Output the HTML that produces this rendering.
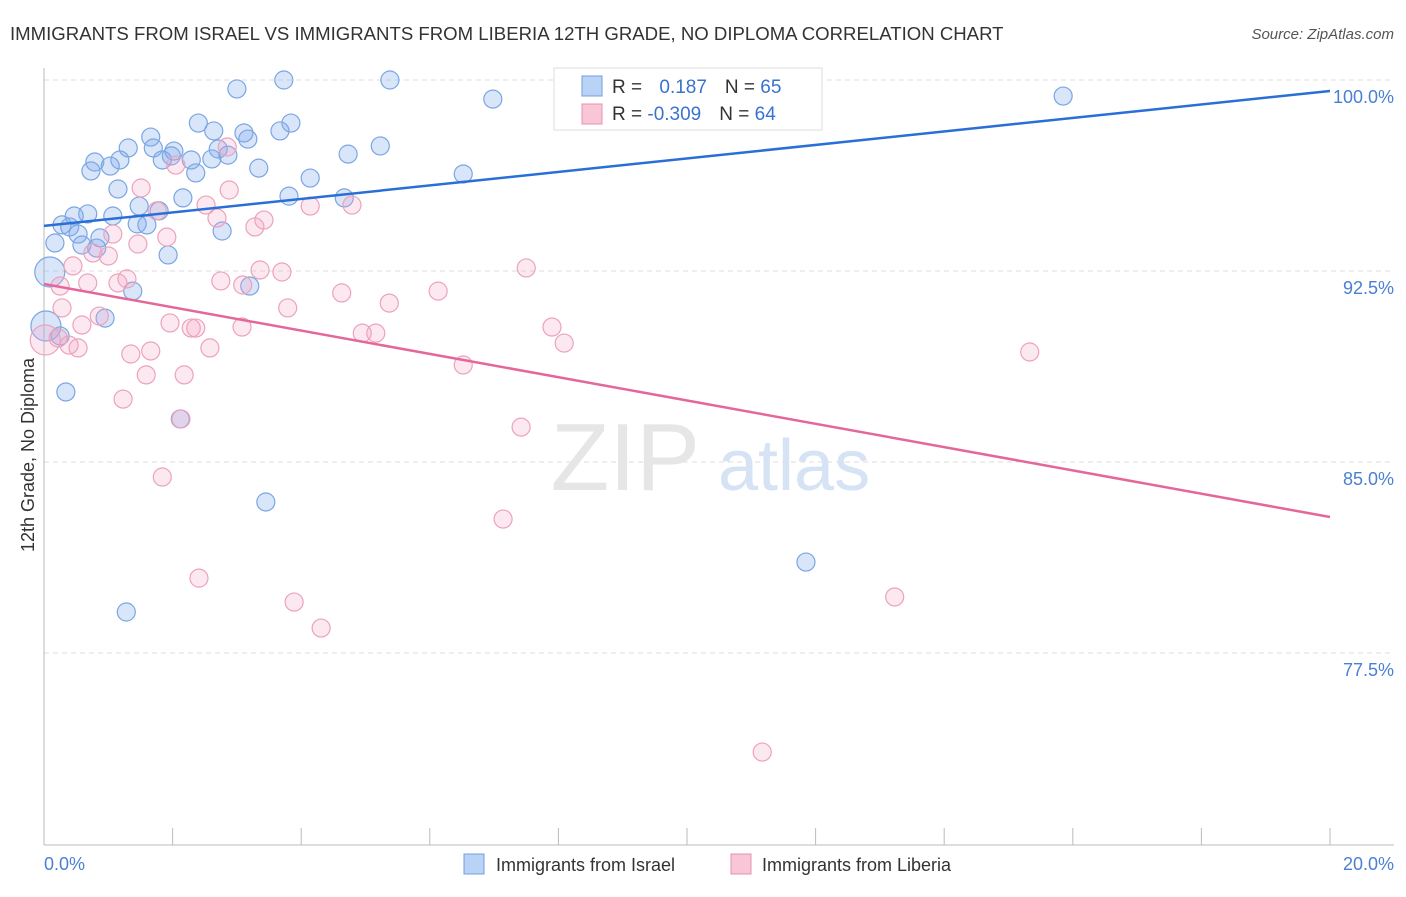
<!DOCTYPE html>
<html><head><meta charset="utf-8"><style>
body{margin:0;background:#fff;font-family:"Liberation Sans",sans-serif}
svg text{font-family:"Liberation Sans",sans-serif}
</style></head><body>
<svg width="1406" height="892">
<text x="10" y="40" font-size="18.6" fill="#333">IMMIGRANTS FROM ISRAEL VS IMMIGRANTS FROM LIBERIA 12TH GRADE, NO DIPLOMA CORRELATION CHART</text>
<text x="1394" y="39" font-size="15" fill="#555" text-anchor="end" font-style="italic">Source: ZipAtlas.com</text>
<g id="grid"></g>
<text x="700" y="490" font-size="96" fill="#e6e6e6" text-anchor="end" font-family="Liberation Serif">ZIP</text>
<text x="718" y="490" font-size="72" fill="#d6e3f5">atlas</text>
<g id="pts"></g>
<g id="lines"></g>
<text transform="translate(34,455) rotate(-90)" font-size="18" fill="#333" text-anchor="middle">12th Grade, No Diploma</text>
<text x="44" y="870" font-size="18" fill="#4a7fd4">0.0%</text>
<text x="1394" y="870" font-size="18" fill="#4a7fd4" text-anchor="end">20.0%</text>
<g>
<rect x="554" y="68" width="268" height="62" fill="#fff" stroke="#ddd"/>
<rect x="582" y="76" width="20" height="20" fill="#b9d3f5" stroke="#6f9fe0"/>
<rect x="582" y="104" width="20" height="20" fill="#f9c6d6" stroke="#e992b0"/>
<text x="612" y="93" font-size="19" fill="#333">R = <tspan fill="#3a72d0" dx="12">0.187</tspan><tspan dx="18" fill="#333">N = </tspan><tspan fill="#3a72d0">65</tspan></text>
<text x="612" y="120" font-size="19" fill="#333">R = <tspan fill="#3a72d0">-0.309</tspan><tspan dx="18" fill="#333">N = </tspan><tspan fill="#3a72d0">64</tspan></text>
</g>
<g><rect x="464" y="854" width="20" height="20" fill="#b9d3f5" stroke="#6f9fe0"/><text x="496" y="871" font-size="18" fill="#333">Immigrants from Israel</text></g>
<g><rect x="731" y="854" width="20" height="20" fill="#f9c6d6" stroke="#e992b0"/><text x="762" y="871" font-size="18" fill="#333">Immigrants from Liberia</text></g>
</svg>
<script>
const yTicks=[100,92.5,85,77.5];
const yTickLabels=["100.0%","92.5%","85.0%","77.5%"];
const israelX=[3.00,3.73,5.38,10.86,6.98,15.85,2.40,3.84,2.64,1.66,3.11,3.67,3.17,1.31,1.70,2.02,2.71,1.98,2.86,2.61,1.84,2.29,1.18,0.79,1.03,0.73,2.36,3.34,4.73,5.23,6.52,4.14,1.15,2.16,3.81,4.67,1.48,1.79,0.68,0.47,1.07,0.28,0.40,1.45,1.60,2.77,0.53,0.87,0.17,0.59,0.82,1.93,0.09,1.38,3.20,0.95,0.25,0.03,0.34,2.12,3.45,1.28,11.85,10.40];
const israelY=[99.65,100,100,100,99.25,99.37,98.31,98.31,98.0,97.76,97.92,98.0,97.68,97.33,97.33,97.21,97.29,97.02,97.05,96.90,96.86,96.86,96.86,96.78,96.62,96.43,96.35,96.54,97.09,97.41,96.31,96.15,95.72,95.37,95.44,95.37,95.05,94.86,94.74,94.66,94.66,94.31,94.23,94.35,94.31,94.07,93.95,93.80,93.60,93.52,93.40,93.13,92.46,91.71,91.91,90.65,89.95,90.34,87.75,86.69,83.43,79.11,81.07,100];
const liberiaX=[9.39,2.85,2.05,1.51,2.88,2.52,1.76,4.14,4.79,3.42,2.69,3.28,1.07,1.91,1.46,0.76,1.00,0.45,3.36,3.70,7.50,2.75,3.09,0.68,0.25,1.29,1.15,4.63,6.13,0.28,3.79,5.37,0.86,0.59,1.96,2.29,2.36,3.08,4.95,5.16,7.90,8.09,15.33,0.02,0.39,0.53,0.22,2.58,1.66,1.35,1.59,2.18,6.52,1.23,2.13,7.42,1.84,7.14,2.41,3.89,13.23,4.31,11.17];
const liberiaY=[100,97.37,96.66,95.76,95.68,95.09,94.86,95.05,95.09,94.50,94.58,94.23,93.95,93.83,93.56,93.21,93.09,92.70,92.54,92.46,92.62,92.11,91.95,92.03,91.91,92.19,92.03,91.64,91.71,91.05,91.05,91.24,90.73,90.38,90.46,90.26,90.26,90.30,90.06,90.06,90.30,89.67,89.32,89.79,89.59,89.48,89.87,89.48,89.36,89.24,88.42,88.42,88.81,87.47,86.69,86.37,84.41,82.76,80.44,79.50,79.70,78.48,73.61];
const israelTrend=[94.27,99.57];
const liberiaTrend=[91.99,82.84];
const bigIsrael=[52,57], bigLiberia=[43];
const NS="http://www.w3.org/2000/svg";
const sx=v=>44+v/20*1286, sy=v=>80+(100-v)/7.5*191;
function mk(t,a,p){const e=document.createElementNS(NS,t);for(const k in a)e.setAttribute(k,a[k]);p.appendChild(e);return e;}
const grid=document.getElementById('grid');
yTicks.forEach((t,i)=>{
 const l=mk('line',{x1:44,x2:1394,y1:sy(t),y2:sy(t),stroke:'#ddd','stroke-dasharray':'5,4'},grid);
 
 
 const tx=mk('text',{x:1394,y:sy(t)+23,'font-size':18,fill:'#4a7fd4','text-anchor':'end'},grid);
 tx.textContent=yTickLabels[i];
 
 
});
const ax=mk('line',{x1:44,x2:44,y1:68,y2:845,stroke:'#bbb'},grid);


const bx=mk('line',{x1:44,x2:1394,y1:845,y2:845,stroke:'#bbb'},grid);


for(let i=0;i<=10;i++){const t=mk('line',{x1:sx(i*2),x2:sx(i*2),y1:828,y2:845,stroke:'#bbb'},grid);
 
 }
const pts=document.getElementById('pts');
israelX.forEach((x,i)=>{const c=mk('circle',{cx:sx(x),cy:sy(israelY[i]),r:bigIsrael.includes(i)?15:9,fill:'rgba(130,170,235,0.3)',stroke:'#7aa6e3','stroke-width':1.2},pts);
 
 });
liberiaX.forEach((x,i)=>{const c=mk('circle',{cx:sx(x),cy:sy(liberiaY[i]),r:bigLiberia.includes(i)?15:9,fill:'rgba(245,165,195,0.25)',stroke:'#eda2bb','stroke-width':1.2},pts);
 
 });
const lg=document.getElementById('lines');
const l1=mk('line',{x1:sx(0),y1:sy(israelTrend[0]),x2:sx(20),y2:sy(israelTrend[1]),stroke:'#2a6fd6','stroke-width':2.5},lg);


const l2=mk('line',{x1:sx(0),y1:sy(liberiaTrend[0]),x2:sx(20),y2:sy(liberiaTrend[1]),stroke:'#e5679a','stroke-width':2.5},lg);


</script>
</body></html>
